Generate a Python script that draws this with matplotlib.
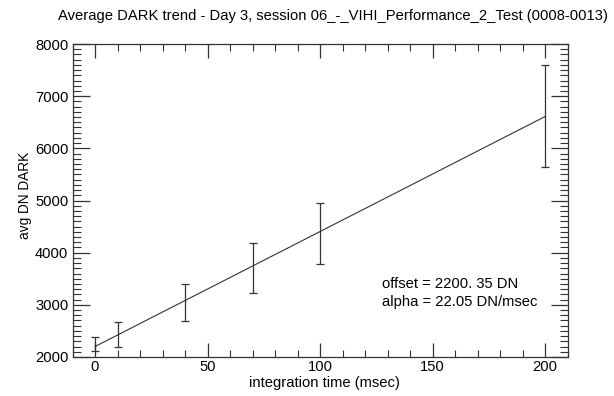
import matplotlib.pyplot as plt
from matplotlib.ticker import MultipleLocator

plt.rcParams['font.family'] = ['Liberation Sans', 'DejaVu Sans']

# integration times (msec) and averaged DARK levels with their spreads
t_int = [0, 10, 40, 70, 100, 200]
dark_avg = [2241, 2426, 3041, 3702, 4367, 6611]
dark_err = [134, 236, 360, 478, 589, 978]

offset = 2200.35   # DN
alpha = 22.05      # DN/msec
fit_t = [0, 200]

title = "Average DARK trend - Day 3, session 06_-_VIHI_Performance_2_Test (0008-0013)"

fig = plt.figure(figsize=(6.14, 3.96), dpi=100)
ax = fig.add_axes([72.5/614, 1 - 357/396, (567.7 - 72.5)/614, (357 - 44)/396])

ink = "#333333"
ax.errorbar(t_int, dark_avg, yerr=dark_err, fmt="none", ecolor=ink,
            elinewidth=0.9, capsize=3, capthick=0.9)
ax.plot(fit_t, [offset + alpha*t for t in fit_t], color=ink, lw=0.8)

ax.set_xlim(-10, 210)
ax.set_ylim(2000, 8000)
ax.xaxis.set_major_locator(MultipleLocator(50))
ax.xaxis.set_minor_locator(MultipleLocator(10))
ax.yaxis.set_major_locator(MultipleLocator(1000))
ax.yaxis.set_minor_locator(MultipleLocator(100))
ax.tick_params(which="both", direction="in", top=True, right=True,
               color=ink, labelsize=10.6, labelcolor="black")
ax.tick_params(axis="x", which="major", length=10, width=0.9, pad=2.5)
ax.tick_params(axis="x", which="minor", length=4.8, width=0.8)
ax.tick_params(axis="y", which="major", length=12.5, width=0.9, pad=3)
ax.tick_params(axis="y", which="minor", length=6, width=0.8)
for s in ax.spines.values():
    s.set_color(ink)
    s.set_linewidth(0.9)

fig.text(324/614, 1 - 383/396, "integration time (msec)", fontsize=10.6,
         ha="center", va="center")
fig.text(25/614, 1 - 195/396, "avg DN DARK", fontsize=9.8, rotation=90,
         ha="center", va="center")

ax.text(127.5, 3400, "offset = 2200. 35 DN", fontsize=10.6, va="center")
ax.text(127.5, 3055, "alpha = 22.05 DN/msec", fontsize=10.6, va="center")

fig.text(333/614, 1 - 16/396, title, fontsize=10.6, ha="center", va="center")

fig.savefig("out.png", dpi=100)
